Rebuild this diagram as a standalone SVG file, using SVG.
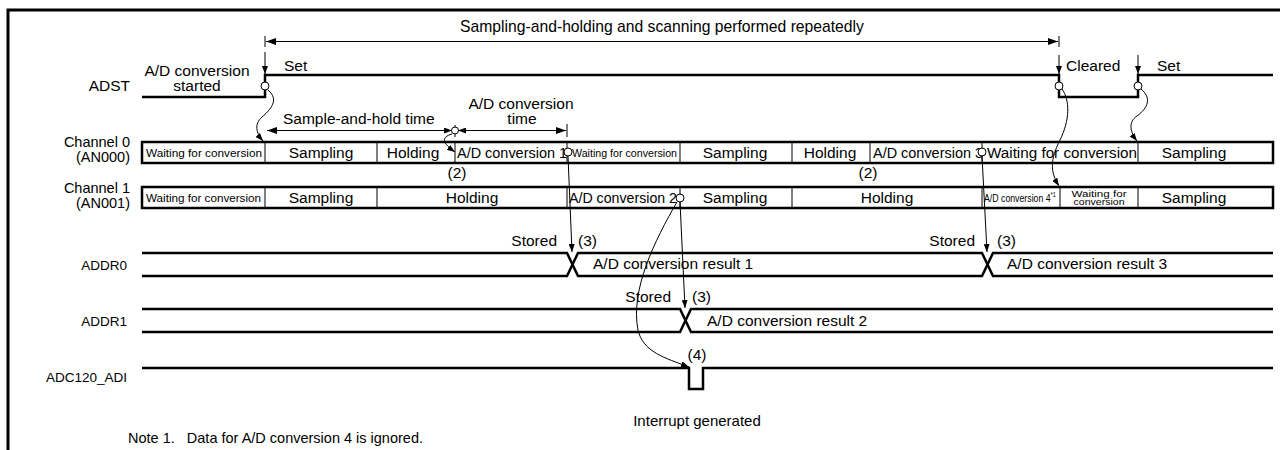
<svg xmlns="http://www.w3.org/2000/svg" width="1280" height="450" viewBox="0 0 1280 450">
<style>
text{font-family:"Liberation Sans",Arial,sans-serif;font-size:15.5px;fill:#000}
.e{text-anchor:end}
.m{text-anchor:middle}
.sm{font-size:11.5px}
.cl{font-size:14.5px}
.rl{font-size:13.5px}
.sig{fill:none;stroke:#000;stroke-width:2.5}
.box{fill:#fff;stroke:#000;stroke-width:2.5}
.dv{stroke:#000;stroke-width:1;fill:none}
.ar{fill:none;stroke:#000;stroke-width:1}
.ci{fill:#fff;stroke:#000;stroke-width:1}
</style>
<defs>
<marker id="ah" viewBox="0 0 10 7" refX="10" refY="3.5" markerWidth="10" markerHeight="7" markerUnits="userSpaceOnUse" orient="auto-start-reverse"><path d="M0,0 L10,3.5 L0,7 z" fill="#000"/></marker>
<marker id="ahs" viewBox="0 0 8 6" refX="8" refY="3" markerWidth="8" markerHeight="6" markerUnits="userSpaceOnUse" orient="auto-start-reverse"><path d="M0,0 L8,3 L0,6 z" fill="#000"/></marker>
</defs>
<rect width="1280" height="450" fill="#fff"/>
<path d="M8,450 V10 H1280" fill="none" stroke="#000" stroke-width="3"/>

<g id="dims">
<text x="662" y="32" class="m" style="font-size:15.7px">Sampling-and-holding and scanning performed repeatedly</text>
<line x1="265" y1="36" x2="265" y2="47" class="dv"/>
<line x1="1059" y1="36" x2="1059" y2="47" class="dv"/>
<path d="M266,41.5 H1058" class="ar" marker-start="url(#ah)" marker-end="url(#ah)"/>
<text x="283" y="124">Sample-and-hold time</text>
<path d="M267,130.5 H452" class="ar" marker-start="url(#ah)" marker-end="url(#ahs)"/>
<line x1="455" y1="125" x2="455" y2="137" class="dv"/>
<circle cx="455" cy="130.5" r="3.5" class="ci"/>
<text x="521" y="109" class="m">A/D conversion</text>
<text x="522" y="124" class="m">time</text>
<path d="M458,130.5 H566" class="ar" marker-start="url(#ahs)" marker-end="url(#ah)"/>
<line x1="567" y1="124" x2="567" y2="137" class="dv"/>
</g>

<g id="adst">
<text x="130" y="91" class="e">ADST</text>
<text x="197" y="76" class="m">A/D conversion</text>
<text x="197" y="91" class="m">started</text>
<path d="M142,97 H265 V75 H1059 V97 H1138 V75 H1273" class="sig"/>
<text x="284" y="71">Set</text>
<text x="1066" y="71">Cleared</text>
<text x="1157" y="71">Set</text>
<circle cx="265" cy="86" r="4" class="ci"/>
<circle cx="1059" cy="86" r="4" class="ci"/>
<circle cx="1138" cy="86" r="4" class="ci"/>
</g>

<g id="ch0">
<text x="130" y="147" class="e cl">Channel 0</text>
<text x="130" y="162" class="e cl">(AN000)</text>
<rect x="142" y="142" width="1131" height="21" class="box"/>
<path d="M265,142V163M377,142V163M455,142V163M567,142V163M680,142V163M792,142V163M870,142V163M982,142V163M1138,142V163" class="dv"/>
<text x="146" y="157" class="sm" textLength="116" lengthAdjust="spacingAndGlyphs">Waiting for conversion</text>
<text x="321" y="158" class="m">Sampling</text>
<text x="413" y="158" class="m">Holding</text>
<text x="457" y="158" textLength="110" lengthAdjust="spacingAndGlyphs">A/D conversion 1</text>
<text x="572" y="157" class="sm" textLength="105" lengthAdjust="spacingAndGlyphs">Waiting for conversion</text>
<text x="735" y="158" class="m">Sampling</text>
<text x="830" y="158" class="m">Holding</text>
<text x="873" y="158" textLength="110" lengthAdjust="spacingAndGlyphs">A/D conversion 3</text>
<text x="987" y="158" textLength="150" lengthAdjust="spacingAndGlyphs">Waiting for conversion</text>
<text x="1194" y="158" class="m">Sampling</text>
<circle cx="568" cy="152" r="4" class="ci"/>
<circle cx="982" cy="152" r="4" class="ci"/>
<text x="457" y="178" class="m">(2)</text>
<text x="868" y="178" class="m">(2)</text>
</g>

<g id="ch1">
<text x="130" y="193" class="e cl">Channel 1</text>
<text x="130" y="208" class="e cl">(AN001)</text>
<rect x="142" y="187" width="1131" height="21" class="box"/>
<path d="M265,187V208M377,187V208M567,187V208M680,187V208M792,187V208M982,187V208M1060,187V208M1138,187V208" class="dv"/>
<text x="146" y="202" class="sm" textLength="115" lengthAdjust="spacingAndGlyphs">Waiting for conversion</text>
<text x="321" y="203" class="m">Sampling</text>
<text x="472" y="203" class="m">Holding</text>
<text x="569" y="203" textLength="108" lengthAdjust="spacingAndGlyphs">A/D conversion 2</text>
<text x="735" y="203" class="m">Sampling</text>
<text x="887" y="203" class="m">Holding</text>
<text x="984" y="202" style="font-size:10px" textLength="72" lengthAdjust="spacingAndGlyphs">A/D conversion 4<tspan dy="-5" style="font-size:6.5px">*1</tspan></text>
<text x="1099" y="197" class="m" style="font-size:9px" textLength="55" lengthAdjust="spacingAndGlyphs">Waiting for</text>
<text x="1099" y="205" class="m" style="font-size:9px" textLength="51" lengthAdjust="spacingAndGlyphs">conversion</text>
<text x="1194" y="203" class="m">Sampling</text>
<circle cx="680" cy="198" r="4" class="ci"/>
</g>

<g id="addr0">
<text x="127" y="270" class="e rl">ADDR0</text>
<path d="M142,253 H567 L578,276 H982 L993,253 H1273" class="sig" stroke-width="2"/>
<path d="M142,276 H567 L578,253 H982 L993,276 H1273" class="sig" stroke-width="2"/>
<text x="593" y="269">A/D conversion result 1</text>
<text x="1007" y="269">A/D conversion result 3</text>
<text x="557" y="246" class="e">Stored</text>
<text x="578" y="246">(3)</text>
<text x="975" y="246" class="e">Stored</text>
<text x="997" y="246">(3)</text>
</g>

<g id="addr1">
<text x="127" y="326" class="e rl">ADDR1</text>
<path d="M142,309 H680 L691,332 H1273" class="sig" stroke-width="2"/>
<path d="M142,332 H680 L691,309 H1273" class="sig" stroke-width="2"/>
<text x="707" y="326">A/D conversion result 2</text>
<text x="671" y="302" class="e">Stored</text>
<text x="692" y="302">(3)</text>
</g>

<g id="adi">
<text x="127" y="382" class="e rl">ADC120_ADI</text>
<path d="M142,368 H689 V389 H703 V368 H1273" class="sig" stroke-width="2"/>
<text x="697" y="360" class="m">(4)</text>
<text x="697" y="426" class="m" style="font-size:15px">Interrupt generated</text>
<text x="128" y="443" style="font-size:14.5px" xml:space="preserve">Note 1.   Data for A/D conversion 4 is ignored.</text>
</g>

<g id="connectors">
<path d="M265,52 V74" class="ar" marker-end="url(#ahs)"/>
<path d="M1059,55 V74" class="ar" marker-end="url(#ahs)"/>
<path d="M1138,55 V74" class="ar" marker-end="url(#ahs)"/>
<path d="M268,90 C280,100 270,110 262,117 C254,124 256,133 263,141" class="ar" marker-end="url(#ahs)"/>
<path d="M452,134 C441,137 442,143 455,152" class="ar" marker-end="url(#ahs)"/>
<path d="M1062,89 C1070,100 1070,120 1060,140 C1050,160 1050,172 1059,186" class="ar" marker-end="url(#ahs)"/>
<path d="M1141,89 C1152,98 1148,108 1137,116 C1128,122 1130,132 1137,141" class="ar" marker-end="url(#ahs)"/>
<path d="M568,156 L572,252" class="ar" marker-end="url(#ahs)"/>
<path d="M982,156 L987,252" class="ar" marker-end="url(#ahs)"/>
<path d="M680,202 L685,308" class="ar" marker-end="url(#ahs)"/>
<path d="M677,202 C655,240 630,290 638,330 C643,352 665,358 689,367" class="ar" marker-end="url(#ahs)"/>
</g>
</svg>
